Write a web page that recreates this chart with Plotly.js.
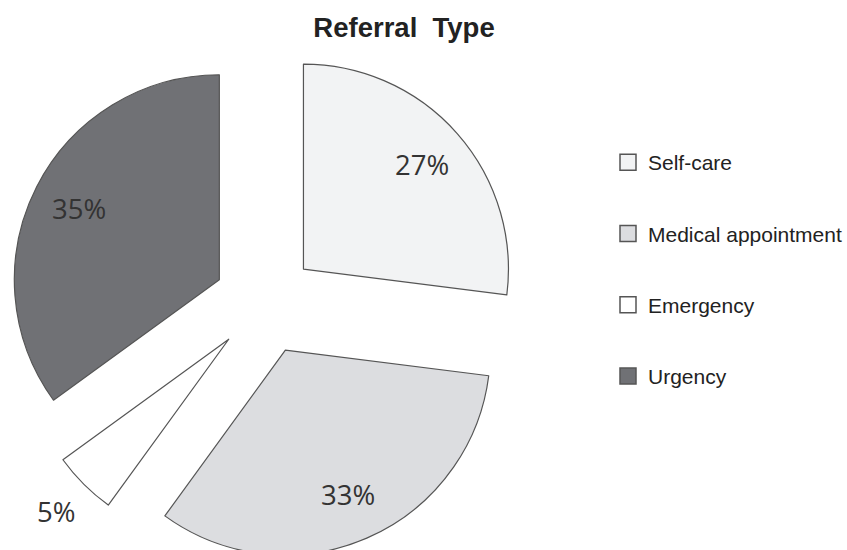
<!DOCTYPE html>
<html>
<head>
<meta charset="utf-8">
<script src="https://cdn.plot.ly/plotly-3.0.1.min.js"></script>
<style>
html,body{margin:0;padding:0;background:#fff;overflow:hidden;}
#wrap{width:847px;height:550px;overflow:hidden;position:relative;}
#chart{width:847px;height:570px;position:absolute;left:0;top:0;}
</style>
</head>
<body>
<div id="wrap"><div id="chart"></div></div>
<script>
const categories = ["Self-care", "Medical appointment", "Emergency", "Urgency"];
const shares = [27, 33, 5, 35];
const sliceColors = ["#f2f3f4", "#dcdde0", "#ffffff", "#707175"];
const labelOutside = [false, false, true, false];
const titleText = "Referral\u00a0 Type";

const H = 570;
const pie = {
  type: "pie",
  labels: categories,
  values: shares,
  sort: false,
  direction: "clockwise",
  rotation: 0,
  pull: [0.25, 0.25, 0.25, 0.25],
  marker: {colors: sliceColors, line: {color: "#555555", width: 1.2}},
  textinfo: "none",
  domain: {x: [0.01033, 0.61541], y: [0.01886, 0.91798]},
  showlegend: false,
  hoverinfo: "label+percent"
};

const legendTraces = categories.map((c, i) => ({
  type: "scatter",
  mode: "markers",
  x: [null], y: [null],
  name: c,
  legendgroup: "g" + i,
  marker: {symbol: "square", size: 16, color: sliceColors[i], line: {color: "#555555", width: 1.5}},
  showlegend: true,
  hoverinfo: "skip"
}));

const layout = {
  width: 847, height: H,
  margin: {l: 0, r: 0, t: 0, b: 0},
  paper_bgcolor: "#ffffff",
  plot_bgcolor: "#ffffff",
  title: {text: "<b>" + titleText + "</b>", x: 0.477, xanchor: "center", y: 1 - 27 / H, yanchor: "middle",
          font: {family: "Liberation Sans, Arial", size: 27.5, color: "#222222"}},
  xaxis: {visible: false},
  yaxis: {visible: false},
  showlegend: true,
  legend: {x: 608 / 847, xanchor: "left", y: 1 - 142 / H, yanchor: "top",
           tracegroupgap: 41, traceorder: "grouped",
           font: {family: "Liberation Sans, Arial", size: 21, color: "#222222"},
           bgcolor: "rgba(0,0,0,0)"}
};

const gd = document.getElementById("chart");
Plotly.newPlot(gd, [pie].concat(legendTraces), layout, {displayModeBar: false, staticPlot: true}).then(() => {
  // place percentage labels along each slice's bisector using the pie geometry Plotly computed
  const cd = gd.calcdata[0];
  const cx = cd[0].cx, cy = cd[0].cy, r = cd[0].r;
  const pulls = gd._fullData[0].pull;
  const gs = gd._fullLayout._size;
  const total = shares.reduce((a, b) => a + b, 0);
  const anns = cd.map((pt, i) => {
    const len = Math.hypot(pt.pxmid[0], pt.pxmid[1]);
    const ux = pt.pxmid[0] / len, uy = pt.pxmid[1] / len;
    const p = Array.isArray(pulls) ? pulls[i] : (pulls || 0);
    const f = p + (labelOutside[i] ? 1.19 : 0.77);
    const px = cx + ux * r * f, py = cy + uy * r * f;
    return {
      xref: "paper", yref: "paper",
      x: (px - gs.l) / gs.w, y: 1 - (py - gs.t) / gs.h,
      xanchor: "center", yanchor: "middle", showarrow: false,
      text: Math.round(shares[i] / total * 100) + "%",
      font: {family: "Open Sans", size: 27.5, color: "#333333"}
    };
  });
  return Plotly.relayout(gd, {annotations: anns});
});
</script>
</body>
</html>
